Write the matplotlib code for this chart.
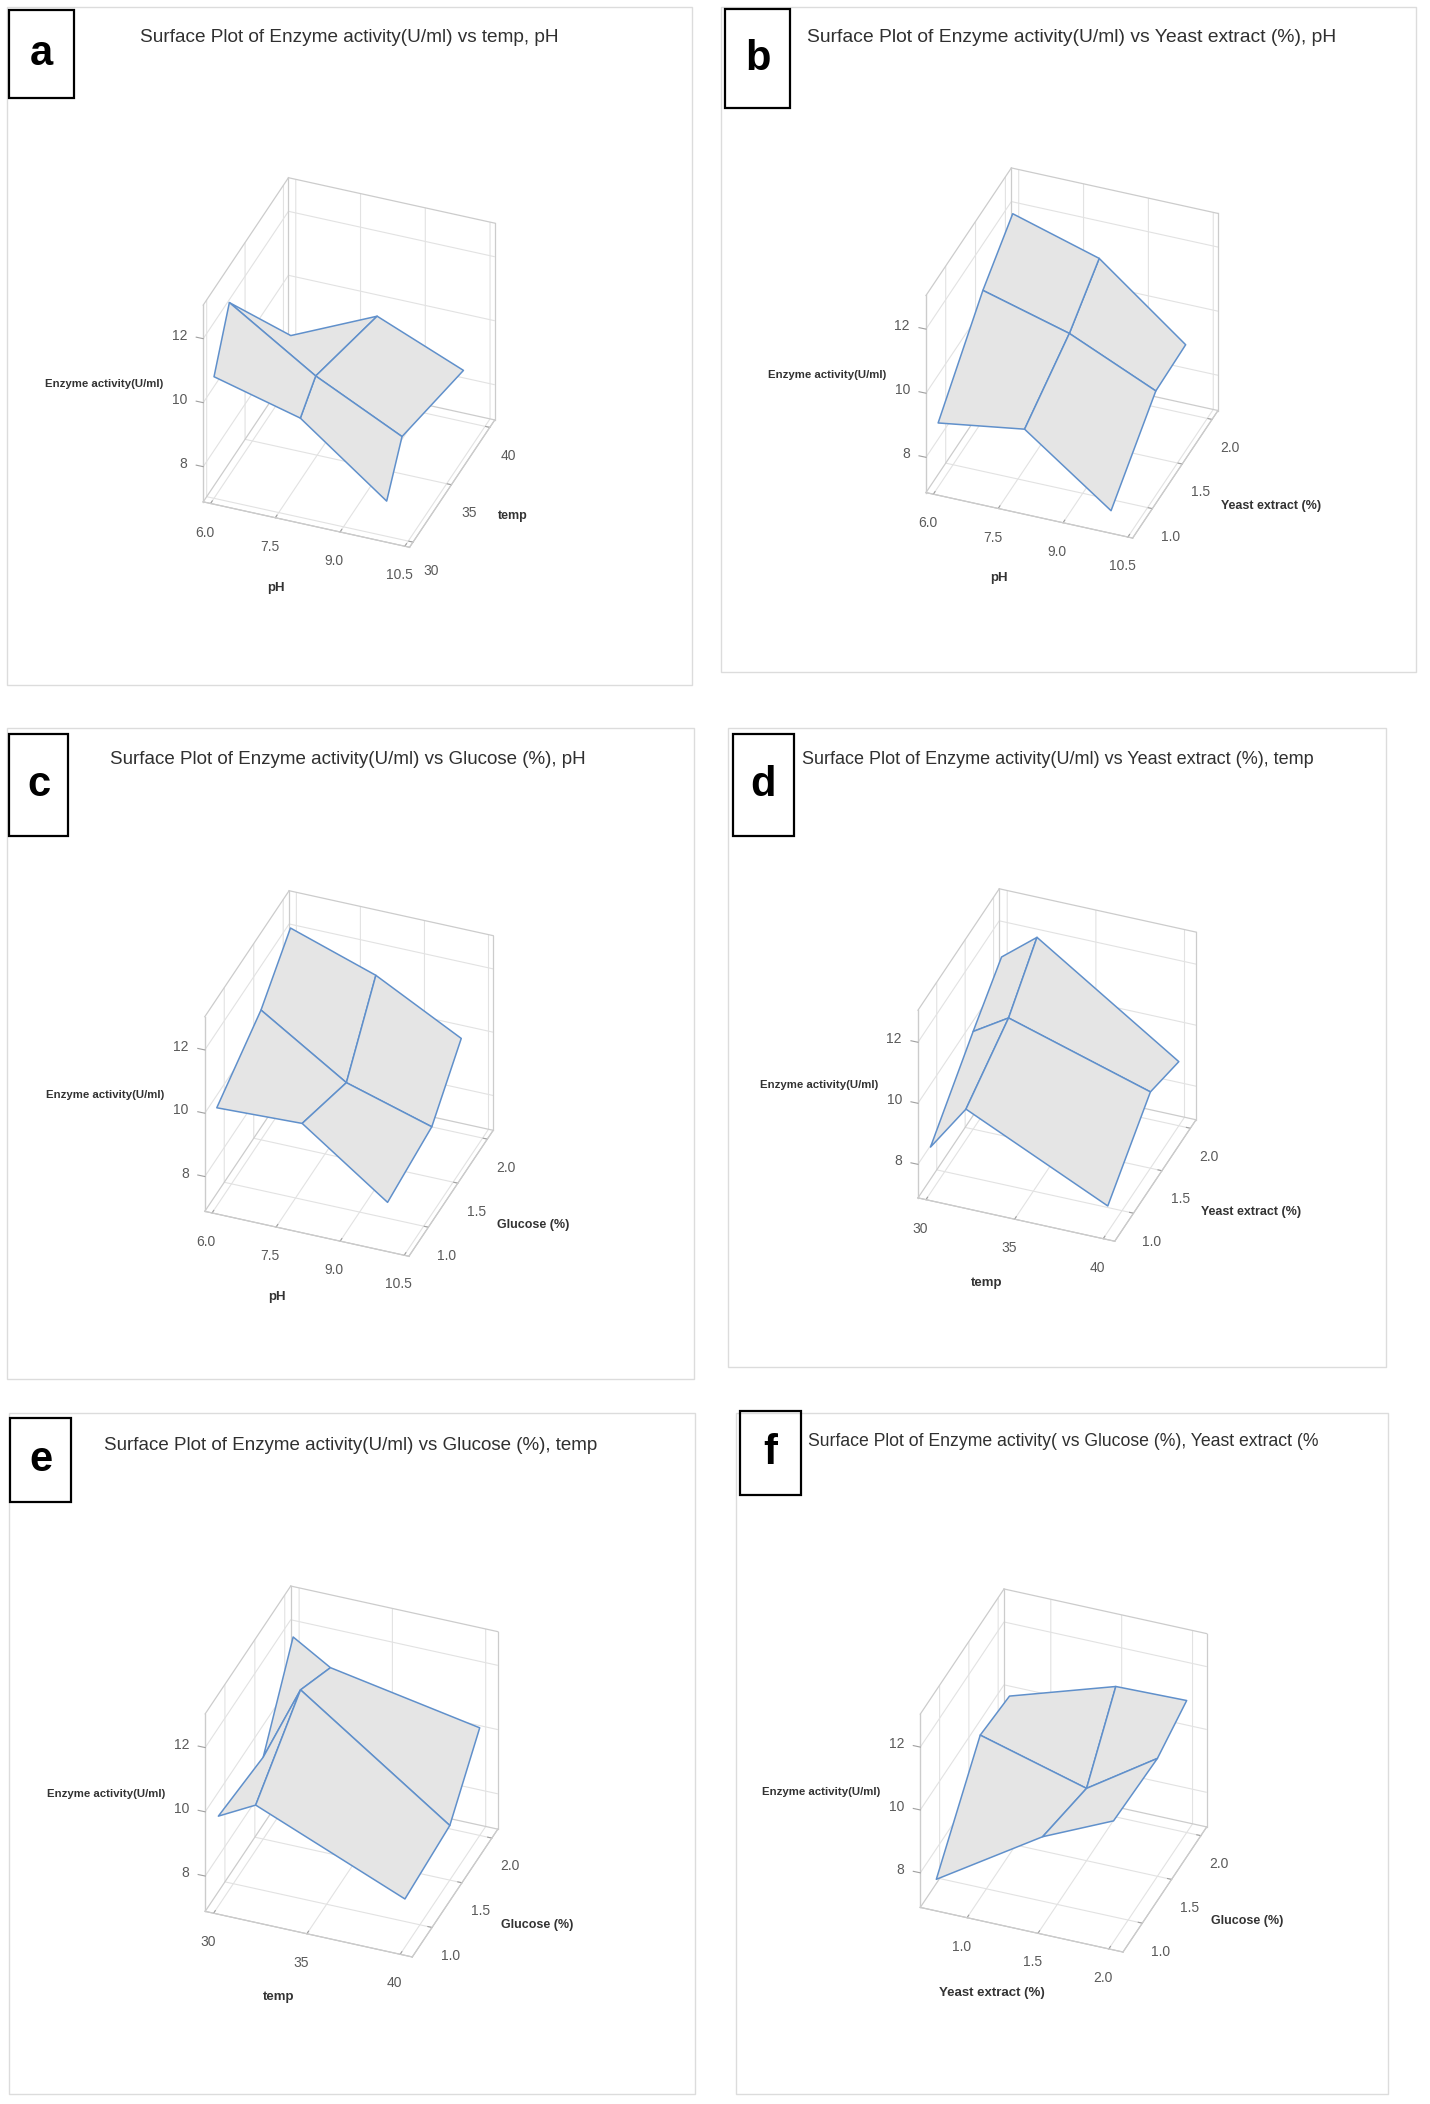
import itertools
import numpy as np
import matplotlib
matplotlib.use('Agg')
import matplotlib.pyplot as plt
from matplotlib.patches import Rectangle
from matplotlib.lines import Line2D
from mpl_toolkits.mplot3d import proj3d

W, H = 1430, 2104

# factor levels
ph = [6, 8, 10]
temp = [30, 32, 40]
yeast = [0.75, 1.5, 2.0]
glucose = [0.75, 1.5, 2.0]

# enzyme activity (U/ml); rows = second factor level, cols = first factor level
act_a = [[10.7, 10.0, 8.0], [12.3, 10.6, 9.3], [8.4, 9.6, 8.5]]        # pH / temp
act_b = [[8.9, 9.3, 7.35], [10.95, 10.2, 9.0], [11.95, 11.15, 9.05]]   # pH / yeast
act_c = [[10.0, 10.1, 8.2], [11.0, 9.3, 8.5], [12.2, 11.3, 9.9]]       # pH / glucose
act_d = [[8.4, 9.9, 7.75], [10.1, 10.8, 9.4], [11.15, 12.05, 9.0]]     # temp / yeast
act_e = [[9.7, 10.3, 8.4], [9.45, 11.8, 8.6], [11.8, 11.1, 10.25]]     # temp / glucose
act_f = [[7.65, 9.75, 10.75], [10.15, 9.2, 10.65], [10.0, 11.05, 11.1]]  # yeast / glucose

z_ticks = [8, 10, 12]
z_lim = (6.9, 13.05)

axis_lim = {'pH': (5.83, 10.61), 'temp': (29.55, 40.65),
            'Yeast extract (%)': (0.67, 2.1), 'Glucose (%)': (0.67, 2.1)}
axis_ticks = {'pH': ['6.0', '7.5', '9.0', '10.5'], 'temp': ['30', '35', '40'],
              'Yeast extract (%)': ['1.0', '1.5', '2.0'], 'Glucose (%)': ['1.0', '1.5', '2.0']}

panels = [
    ('a', 'Surface Plot of Enzyme activity(U/ml) vs temp, pH', ph, temp, act_a, 'pH', 'temp'),
    ('b', 'Surface Plot of Enzyme activity(U/ml) vs Yeast extract (%), pH', ph, yeast, act_b, 'pH', 'Yeast extract (%)'),
    ('c', 'Surface Plot of Enzyme activity(U/ml) vs Glucose (%), pH', ph, glucose, act_c, 'pH', 'Glucose (%)'),
    ('d', 'Surface Plot of Enzyme activity(U/ml) vs Yeast extract (%), temp', temp, yeast, act_d, 'temp', 'Yeast extract (%)'),
    ('e', 'Surface Plot of Enzyme activity(U/ml) vs Glucose (%), temp', temp, glucose, act_e, 'temp', 'Glucose (%)'),
    ('f', 'Surface Plot of Enzyme activity( vs Glucose (%), Yeast extract (%', yeast, glucose, act_f, 'Yeast extract (%)', 'Glucose (%)'),
]

# layout in image pixels (left, top, right, bottom)
frames = [(7, 7, 692, 685), (721, 7, 1416, 672), (7, 728, 694, 1379),
          (728, 728, 1386, 1367), (9, 1413, 695, 2094), (736, 1413, 1388, 2094)]
tag_boxes = [(9, 10, 74, 98), (725, 9, 790, 108), (9, 734, 68, 836),
             (733, 734, 794, 836), (10, 1418, 71, 1502), (740, 1411, 801, 1495)]
title_pos = [(349, 38), (1072, 38), (348, 759), (1058, 759), (351, 1446), (1063, 1442)]
title_size = [13.7, 13.9, 13.5, 13.0, 13.5, 12.7]
cube_boxes = [(203, 178, 495, 547), (922, 173, 1222, 533), (203, 893, 495, 1254),
              (917, 890, 1197, 1240), (206, 1585, 497, 1958), (925, 1583, 1202, 1958)]

plt.rcParams['font.family'] = ['Liberation Sans', 'DejaVu Sans']
plt.rcParams['grid.color'] = '#e2e2e2'
plt.rcParams['grid.linewidth'] = 0.8
plt.rcParams['axes.edgecolor'] = '#bdbdbd'
plt.rcParams['axes.linewidth'] = 0.8
plt.rcParams['xtick.color'] = '#a0a0a0'
plt.rcParams['ytick.color'] = '#a0a0a0'

fig = plt.figure(figsize=(W / 100, H / 100), dpi=100)
fig.patch.set_facecolor('white')


def fr(x, y):
    return x / W, 1 - y / H


def to_px(ax, x, y, z):
    px, py, _ = proj3d.proj_transform(x, y, z, ax.get_proj())
    return ax.transData.transform((px, py))


axes = []
for i, (tag, title, xv, yv, zv, xl, yl) in enumerate(panels):
    l, t, r, b = frames[i]
    fig.add_artist(Rectangle(fr(l, b), (r - l) / W, (b - t) / H, transform=fig.transFigure,
                             fill=False, edgecolor='#dcdcdc', linewidth=1.0, zorder=0))
    l, t, r, b = tag_boxes[i]
    fig.add_artist(Rectangle(fr(l, b), (r - l) / W, (b - t) / H, transform=fig.transFigure,
                             fill=False, edgecolor='black', linewidth=1.6, zorder=5))
    fig.text((l + r) / 2 / W, 1 - (t + b) / 2 / H, tag, ha='center', va='center',
             fontsize=30, fontweight='bold', color='black')
    cx, cy = title_pos[i]
    fig.text(cx / W, 1 - cy / H, title, ha='center', va='center', fontsize=title_size[i],
             color='#303030')

    l, t, r, b = cube_boxes[i]
    side = 420
    ccx, ccy = (l + r) / 2, H - (t + b) / 2
    ax = fig.add_axes([(ccx - side / 2) / W, (ccy - side / 2) / H, side / W, side / H],
                      projection='3d', computed_zorder=False)
    ax.set_facecolor('none')
    ax.set_proj_type('ortho')
    ax.view_init(elev=35, azim=-69)
    ax.set_box_aspect((0.92, 0.99, 1.0))

    x0, x1 = axis_lim[xl]
    y0, y1 = axis_lim[yl]
    z0, z1 = z_lim
    # cube outline like the reference frame
    edges = [((x0, x0), (y0, y0), (z0, z1)), ((x0, x0), (y0, y1), (z1, z1)),
             ((x0, x1), (y1, y1), (z1, z1)), ((x1, x1), (y1, y1), (z0, z1)),
             ((x0, x0), (y1, y1), (z0, z1)), ((x0, x1), (y0, y0), (z0, z0)),
             ((x1, x1), (y0, y1), (z0, z0)), ((x0, x0), (y0, y1), (z0, z0)),
             ((x0, x1), (y1, y1), (z0, z0))]
    for ex, ey, ez in edges:
        ax.plot(ex, ey, ez, color='#cccccc', linewidth=0.9, zorder=1)

    X, Y = np.meshgrid(xv, yv)
    Z = np.array(zv)
    ax.plot_surface(X, Y, Z, color='#e5e5e5', edgecolor='#6090cb', linewidth=1.1,
                    shade=False, rstride=1, cstride=1, antialiased=True, zorder=3)

    ax.set_xlim(x0, x1)
    ax.set_ylim(y0, y1)
    ax.set_zlim(z0, z1)
    ax.set_xticks([float(s) for s in axis_ticks[xl]])
    ax.set_xticklabels(axis_ticks[xl])
    ax.set_yticks([float(s) for s in axis_ticks[yl]])
    ax.set_yticklabels(axis_ticks[yl])
    ax.set_zticks(z_ticks)
    ax.set_zticklabels(['' for v in z_ticks])
    ax.zaxis.set_ticks_position('lower')
    ax.tick_params(labelsize=10, labelcolor='#5a5a5a', pad=2)
    ax.tick_params(axis='y', pad=5)
    for a in (ax.xaxis, ax.yaxis, ax.zaxis):
        a.set_pane_color((1, 1, 1, 0))
        a.pane.set_edgecolor('#cccccc')
        a.pane.set_linewidth(0.9)
        a._axinfo['tick']['inward_factor'] = 0.0
        a._axinfo['tick']['outward_factor'] = 0.25
    ax.zaxis._axinfo['tick']['outward_factor'] = 0.0
    axes.append(ax)

# fit every cube onto its place in the reference
fig.canvas.draw()
for i, ax in enumerate(axes):
    xl = ax.get_xlim()
    yl = ax.get_ylim()
    zl = ax.get_zlim()
    pts = np.array([to_px(ax, x, y, z) for x, y, z in itertools.product(xl, yl, zl)])
    mx0, my0 = pts.min(axis=0)
    mx1, my1 = pts.max(axis=0)
    l, t, r, b = cube_boxes[i]
    tx0, tx1, ty0, ty1 = l, r, H - b, H - t
    s = ((tx1 - tx0) / (mx1 - mx0) + (ty1 - ty0) / (my1 - my0)) / 2
    bb = ax.get_position()
    px0, py0, pw, ph_ = bb.x0 * W, bb.y0 * H, bb.width * W, bb.height * H
    acx, acy = px0 + pw / 2, py0 + ph_ / 2
    dx, dy = (mx0 + mx1) / 2 - acx, (my0 + my1) / 2 - acy
    ncx, ncy = (tx0 + tx1) / 2 - dx * s, (ty0 + ty1) / 2 - dy * s
    nw, nh = pw * s, ph_ * s
    ax.set_position([(ncx - nw / 2) / W, (ncy - nh / 2) / H, nw / W, nh / H])

fig.canvas.draw()
for i, ax in enumerate(axes):
    tag, title, xv, yv, zv, xlab, ylab = panels[i]
    x0, x1 = ax.get_xlim()
    y0, y1 = ax.get_ylim()
    z0, z1 = ax.get_zlim()
    # z ticks drawn flat to the left, as in the reference
    for zt in z_ticks:
        p = to_px(ax, x0, y0, zt)
        fig.add_artist(Line2D([(p[0] - 7) / W, p[0] / W], [(p[1] + 1.5) / H, p[1] / H],
                              transform=fig.transFigure, color='#a0a0a0', linewidth=0.8))
        fig.text((p[0] - 16) / W, (p[1] + 3) / H, str(zt), ha='right', va='center',
                 fontsize=10, color='#5a5a5a')
    p = to_px(ax, (x0 + x1) / 2, y0, z0)
    fig.text((p[0] - 30) / W, (p[1] - 63) / H, xlab, ha='center', va='center',
             fontsize=9.5, fontweight='bold', color='#333333')
    p = to_px(ax, x1, (y0 + y1) / 2, z0)
    fig.text((p[0] + 46) / W, (p[1] - 32) / H, ylab, ha='left', va='center',
             fontsize=9, fontweight='bold', color='#333333')
    p = to_px(ax, x0, y0, (z0 + z1) / 2)
    fig.text((p[0] - 40) / W, (p[1] + 19) / H, 'Enzyme activity(U/ml)', ha='right', va='center',
             fontsize=8.2, fontweight='bold', color='#333333')

fig.savefig('out.png', dpi=100)
